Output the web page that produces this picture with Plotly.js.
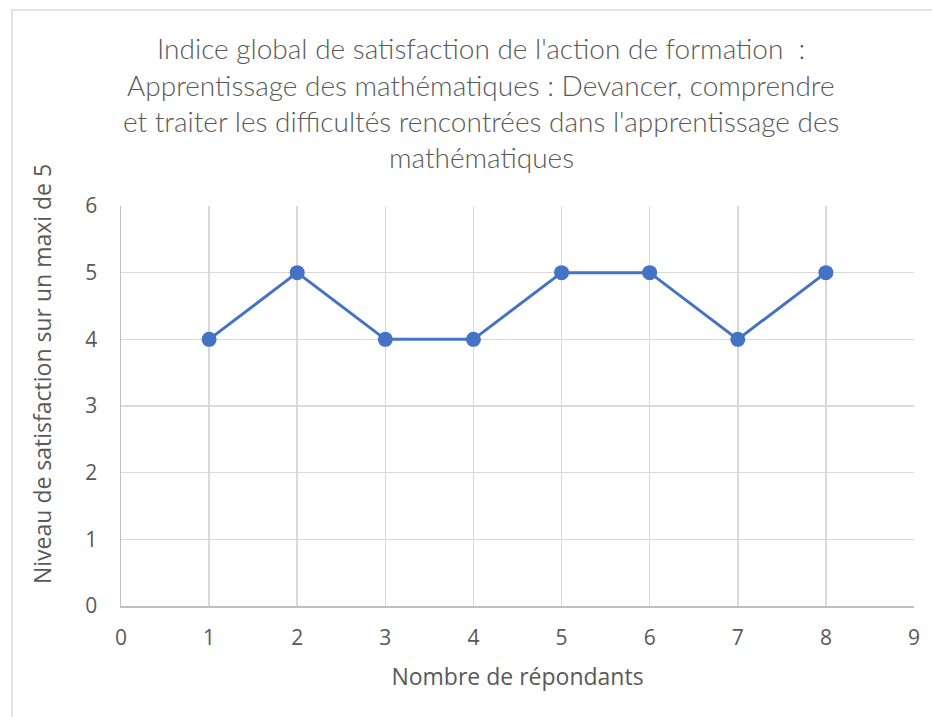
<!DOCTYPE html>
<html>
<head>
<meta charset="utf-8">
<script src="https://cdn.plot.ly/plotly-3.0.1.min.js"></script>
<style>
  html, body { margin: 0; padding: 0; background: #fff; }
  #graphique { width: 932px; height: 717px; }
</style>
</head>
<body>
<div id="graphique"></div>
<script>
// Données
const repondants = [1, 2, 3, 4, 5, 6, 7, 8];
const satisfaction = [4, 5, 4, 4, 5, 5, 4, 5];
const titreLignes = [
    "Indice global de satisfaction de l'action de formation  :",
    "Apprentissage des mathématiques : Devancer, comprendre",
    "et traiter les difficultés rencontrées dans l'apprentissage des",
    "mathématiques"
];
const titreY = 'Niveau de satisfaction sur un maxi de 5';

const gris = '#595959';

const trace = {
    x: repondants,
    y: satisfaction,
    type: 'scatter',
    mode: 'lines+markers',
    line: { color: '#4472C4', width: 3 },
    marker: { color: '#4472C4', size: 15 },
    hoverinfo: 'x+y'
};

// une annotation par ligne du titre pour garder l'interligne d'origine
const annots = titreLignes.map((t, i) => ({
    text: t,
    xref: 'paper', yref: 'paper',
    x: (481 - 121) / 793,
    y: (606 - (48 + i * 36.5)) / 400,
    xanchor: 'center', yanchor: 'middle',
    showarrow: false,
    font: { family: 'Lato, sans-serif', size: 28, weight: 300, color: gris }
}));

// titre de l'axe Y, décalé vers le haut comme dans l'original
annots.push({
    text: titreY,
    xref: 'paper', yref: 'paper',
    x: (42 - 121) / 793,
    y: (606 - 374) / 400,
    xanchor: 'center', yanchor: 'middle',
    textangle: -90,
    showarrow: false,
    font: { family: '"Open Sans", sans-serif', size: 23, color: gris }
});

const layout = {
    width: 932,
    height: 717,
    margin: { l: 121, r: 18, t: 206, b: 111 },
    paper_bgcolor: '#fff',
    plot_bgcolor: '#fff',
    showlegend: false,
    font: { family: '"Open Sans", sans-serif', color: gris },
    xaxis: {
        range: [0, 9],
        dtick: 1,
        showgrid: true,
        gridcolor: '#d9d9d9',
        gridwidth: 1.5,
        zeroline: false,
        showline: true,
        linecolor: '#bfbfbf',
        linewidth: 1.5,
        ticks: '',
        ticklabelstandoff: 12,
        tickfont: { size: 21, color: gris },
        title: { text: 'Nombre de répondants', font: { size: 23, color: gris }, standoff: 19 }
    },
    yaxis: {
        range: [0, 6],
        dtick: 1,
        showgrid: true,
        gridcolor: '#d9d9d9',
        gridwidth: 1.5,
        zeroline: false,
        showline: true,
        linecolor: '#bfbfbf',
        linewidth: 1.5,
        ticks: '',
        ticklabelstandoff: 18,
        tickfont: { size: 21, color: gris }
    },
    annotations: annots,
    shapes: [{
        type: 'rect',
        xref: 'paper', yref: 'paper',
        x0: (12 - 121) / 793, x1: (945 - 121) / 793,
        y0: (606 - 730) / 400, y1: (606 - 10) / 400,
        line: { color: '#d9d9d9', width: 1.5 },
        layer: 'below'
    }]
};

Plotly.newPlot('graphique', [trace], layout, { displayModeBar: false, staticPlot: true });
</script>
</body>
</html>
